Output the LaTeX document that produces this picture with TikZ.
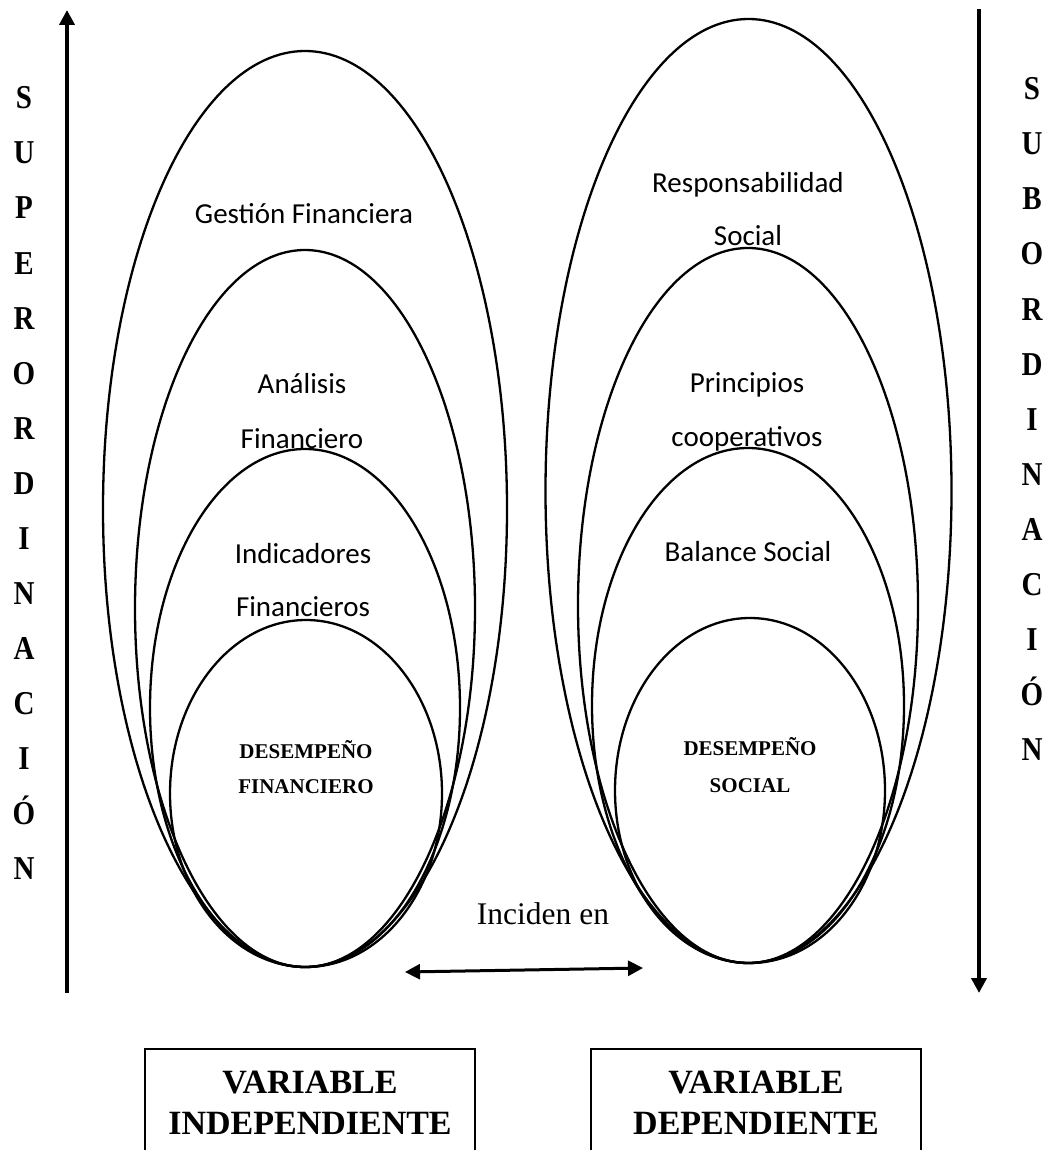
\documentclass[tikz,border=0pt]{standalone}
\usepackage{fontspec}
\setmainfont{Liberation Serif}
\newfontfamily\calibri{Carlito}
\usetikzlibrary{arrows.meta,shapes.geometric}

\begin{document}
\begin{tikzpicture}[x=1pt,y=-1pt,
  ring/.style={draw, ellipse, line width=2.3pt, inner sep=0pt, outer sep=0pt},
  lbl/.style={font=\calibri\fontsize{29}{34}\selectfont, anchor=base, inner sep=0pt},
  core/.style={font=\bfseries\fontsize{21}{25}\selectfont, anchor=base, inner sep=0pt},
  side/.style={font=\bfseries\fontsize{29}{32}\selectfont, anchor=base, inner sep=0pt},
  axis/.style={line width=4pt, -{Triangle[length=15pt,width=15pt]}},
  link/.style={line width=3pt, {Triangle[length=15pt,width=15pt]}-{Triangle[length=15pt,width=15pt]}},
  varbox/.style={draw, line width=2pt, minimum width=330pt, minimum height=160pt, inner sep=0pt},
  vartext/.style={font=\bfseries\fontsize{34}{41}\selectfont, anchor=base, inner sep=0pt}]

\clip (0,0) rectangle (1048,1150);
\fill[white] (0,0) rectangle (1048,1150);

% independent variable: nested rings tangent at the bottom
\node[ring, minimum width=404pt, minimum height=916pt] (gf) at (305,509) {};
\node[ring, minimum width=340pt, minimum height=717pt] (af) at (305,608.5) {};
\node[ring, minimum width=310pt, minimum height=518pt] (inf) at (305,708) {};
\node[ring, minimum width=272pt, minimum height=347pt] (df) at (306,793.5) {};

% dependent variable: nested rings tangent at the bottom
\node[ring, minimum width=406pt, minimum height=944pt] (rs) at (748.5,491) {};
\node[ring, minimum width=340pt, minimum height=715pt] (pc) at (748,605.5) {};
\node[ring, minimum width=312pt, minimum height=515pt] (bs) at (748,705.5) {};
\node[ring, minimum width=270pt, minimum height=345pt] (ds) at (750,790.5) {};

% ring labels
\node[lbl] (tgf) at (304,224) {Gestión Financiera};
\node[lbl] (taf1) at (302,393) {Análisis};
\node[lbl] (taf2) at (302,448) {Financiero};
\node[lbl] (tinf1) at (303,563) {Indicadores};
\node[lbl] (tinf2) at (303,616) {Financieros};
\node[core] (tdf1) at (306,758) {DESEMPEÑO};
\node[core] (tdf2) at (306,793) {FINANCIERO};

\node[lbl] (trs1) at (748,193) {Responsabilidad};
\node[lbl] (trs2) at (748,246) {Social};
\node[lbl] (tpc1) at (747,392) {Principios};
\node[lbl] (tpc2) at (747,446) {cooperativos};
\node[lbl] (tbs) at (748,561) {Balance Social};
\node[core] (tds1) at (750,755) {DESEMPEÑO};
\node[core] (tds2) at (750,792) {SOCIAL};

% relation between both variables
\coordinate (linkL) at (405,972);
\coordinate (linkR) at (643,968);
\draw[link] (linkL) -- (linkR);
\node[font=\fontsize{31.5}{36}\selectfont, anchor=base, inner sep=0pt] (inc) at (543,924) {Inciden en};

% vertical axes
\coordinate (upB) at (67,993);
\coordinate (upT) at (67,10);
\draw[axis] (upB) -- (upT);
\coordinate (dnT) at (979,9);
\coordinate (dnB) at (979,993);
\draw[axis] (dnT) -- (dnB);

\foreach \ch [count=\i from 0] in {S,U,P,E,R,O,R,D,I,N,A,C,I,Ó,N}
  \node[side] (sup\i) at (24,109+55*\i) {\scalebox{1}[1.15]{\ch}};
\foreach \ch [count=\i from 0] in {S,U,B,O,R,D,I,N,A,C,I,Ó,N}
  \node[side] (sub\i) at (1032,100+55*\i) {\scalebox{1}[1.15]{\ch}};

% variable boxes (run past the lower edge)
\node[varbox] (vi) at (310,1129) {};
\node[varbox] (vd) at (756,1129) {};
\node[vartext] (vi1) at (310,1093) {VARIABLE};
\node[vartext] (vi2) at (310,1134) {INDEPENDIENTE};
\node[vartext] (vd1) at (756,1093) {VARIABLE};
\node[vartext] (vd2) at (756,1134) {DEPENDIENTE};
\end{tikzpicture}
\end{document}
